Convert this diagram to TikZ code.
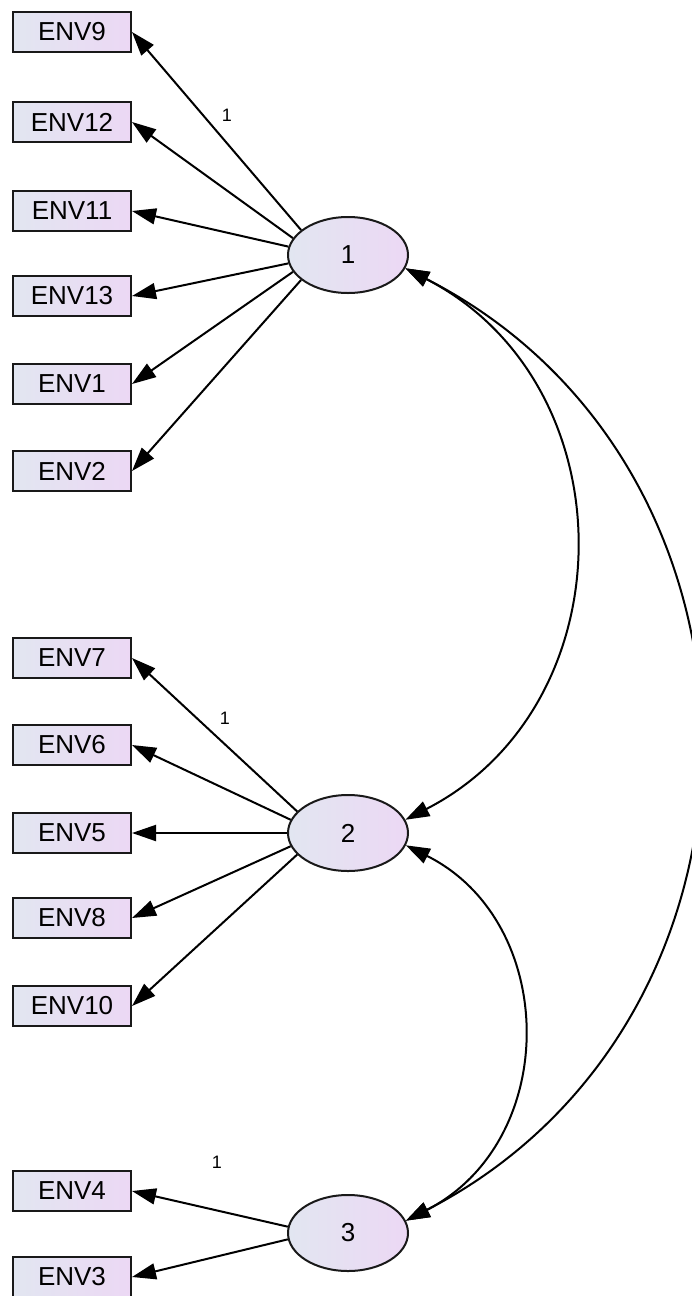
\documentclass[tikz,border=0pt]{standalone}
\usepackage{fontspec}
\setmainfont{Liberation Sans}
\usetikzlibrary{arrows.meta,shapes.geometric}
\definecolor{gl}{RGB}{226,230,241}
\definecolor{gr}{RGB}{236,216,244}
\newcommand{\lblfont}{\fontsize{18}{20}\selectfont}
\newcommand{\bigfont}{\fontsize{26}{30}\selectfont}
\begin{document}
\begin{tikzpicture}[x=1pt,y=-1pt,
  obs/.style={draw=black!90, line width=2pt, left color=gl, right color=gr,
    minimum width=118pt, minimum height=40pt, inner sep=0pt, font=\bigfont},
  lat/.style={ellipse, draw=black!90, line width=2pt, left color=gl, right color=gr,
    minimum width=120pt, minimum height=76pt, inner sep=0pt, font=\bigfont},
  ld/.style={line width=2pt, -{Triangle[length=24pt,width=16pt]}},
  cov/.style={line width=2pt, {Triangle[length=24pt,width=16pt]}-{Triangle[length=24pt,width=16pt]}},
  lbl/.style={inner sep=0pt, font=\lblfont}]
\useasboundingbox (0,0) rectangle (691,1296);
% latent variables
\node[lat] (e1) at (348,255) {1};
\node[lat] (e2) at (348,833) {2};
\node[lat] (e3) at (348,1233) {3};
% observed variables
\node[obs] (b9)  at (72,32)   {ENV9};
\node[obs] (b12) at (72,122)  {ENV12};
\node[obs] (b11) at (72,211)  {ENV11};
\node[obs] (b13) at (72,296)  {ENV13};
\node[obs] (b1)  at (72,384)  {ENV1};
\node[obs] (b2)  at (72,471)  {ENV2};
\node[obs] (b7)  at (72,658)  {ENV7};
\node[obs] (b6)  at (72,745)  {ENV6};
\node[obs] (b5)  at (72,833)  {ENV5};
\node[obs] (b8)  at (72,918)  {ENV8};
\node[obs] (b10) at (72,1006) {ENV10};
\node[obs] (b4)  at (72,1191) {ENV4};
\node[obs] (b3)  at (72,1277) {ENV3};
% loadings
\draw[ld] (e1.152) -- (b9.east);
\draw[ld] (e1.163) -- (b12.east);
\draw[ld] (e1.172) -- (b11.east);
\draw[ld] (e1.188) -- (b13.east);
\draw[ld] (e1.197) -- (b1.east);
\draw[ld] (e1.208) -- (b2.east);
\draw[ld] (e2.157) -- (b7.east);
\draw[ld] (e2.167) -- (b6.east);
\draw[ld] (e2.180) -- (b5.east);
\draw[ld] (e2.193) -- (b8.east);
\draw[ld] (e2.203) -- (b10.east);
\draw[ld] (e3.174) -- (b4.east);
\draw[ld] (e3.186) -- (b3.east);
\node[lbl] (l9) at (227,115) {\lblfont 1};
\node[lbl] (l7) at (225,718) {\lblfont 1};
\node[lbl] (l4) at (217,1162) {\lblfont 1};
% covariances
\draw[cov] (e1.-13) .. controls (630,384) and (629,705) .. (e2.13);
\draw[cov] (e2.-12) .. controls (559,922) and (561,1141) .. (e3.12);
\draw[cov] (e1.-13) .. controls (794,467) and (795,1020) .. (e3.12);
\end{tikzpicture}
\end{document}
